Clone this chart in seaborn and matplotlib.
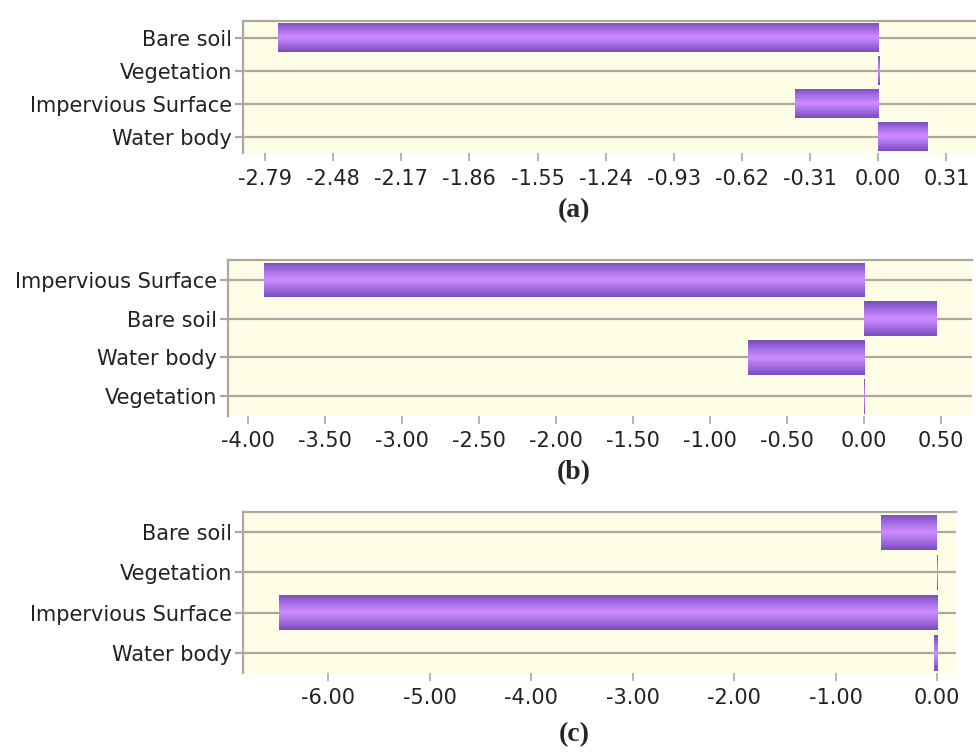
#!/usr/bin/env python3

import numpy as np
import pandas as pd
import matplotlib
matplotlib.use("Agg")
import matplotlib.pyplot as plt
from matplotlib.colors import LinearSegmentedColormap
import seaborn as sns

# panel (a)
cats_a = ["Bare soil", "Vegetation", "Impervious Surface", "Water body"]
vals_a = [-2.73, 0.005, -0.38, 0.225]
ticks_a = [-2.79, -2.48, -2.17, -1.86, -1.55, -1.24, -0.93, -0.62, -0.31, 0.00, 0.31]

# panel (b)
cats_b = ["Impervious Surface", "Bare soil", "Water body", "Vegetation"]
vals_b = [-3.90, 0.47, -0.755, 0.005]
ticks_b = [-4.00, -3.50, -3.00, -2.50, -2.00, -1.50, -1.00, -0.50, 0.00, 0.50]

# panel (c)
cats_c = ["Bare soil", "Vegetation", "Impervious Surface", "Water body"]
vals_c = [-0.55, -0.006, -6.49, -0.03]
ticks_c = [-6.00, -5.00, -4.00, -3.00, -2.00, -1.00, 0.00]

captions = ["(a)", "(b)", "(c)"]

sns.set_theme(style="white")
plt.rcParams['font.family'] = ['DejaVu Sans']

bg = "#fefee6"
grid_col = "#a9a9a2"
bar_cmap = LinearSegmentedColormap.from_list("bar", ["#cf8cff", "#a46ee6", "#7a4cbc"])

fig = plt.figure(figsize=(9.76, 7.52), dpi=100)

panels = [
    (cats_a, vals_a, ticks_a, (-2.89, 0.445), [0.249, 0.796, 0.751, 0.176]),
    (cats_b, vals_b, ticks_b, (-4.13, 0.70), [0.234, 0.447, 0.762, 0.207]),
    (cats_c, vals_c, ticks_c, (-6.84, 0.19), [0.249, 0.105, 0.731, 0.214]),
]
cap_y = [1 - 211 / 752, 1 - 473 / 752, 1 - 735 / 752]

for (cats, vals, ticks, xlim, rect), cap, cy in zip(panels, captions, cap_y):
    ax = fig.add_axes(rect)
    df = pd.DataFrame({"cat": cats, "val": vals})
    sns.barplot(data=df, x="val", y="cat", orient="h", ax=ax,
                color="#a46ee6", width=0.88, linewidth=0, zorder=3)
    ax.set_xlim(*xlim)
    ax.set_ylim(len(cats) - 0.5, -0.5)

    # vertical shading on each bar
    g = np.abs(np.linspace(-1, 1, 64))[:, None]
    for p in ax.patches:
        x0, y0 = p.get_x(), p.get_y()
        w, h = p.get_width(), p.get_height()
        im = ax.imshow(g, cmap=bar_cmap, vmin=0, vmax=1, aspect="auto",
                       extent=[x0, x0 + w, y0 + h, y0], zorder=3.5,
                       interpolation="bilinear")
        im.set_clip_path(p)
    ax.set_xlim(*xlim)
    ax.set_ylim(len(cats) - 0.5, -0.5)

    ax.set_facecolor(bg)
    ax.yaxis.grid(True, color=grid_col, lw=1.6)
    ax.set_axisbelow(True)
    for s in ["bottom", "right"]:
        ax.spines[s].set_visible(False)
    for s in ["left", "top"]:
        ax.spines[s].set_color(grid_col)
        ax.spines[s].set_linewidth(1.6)

    ax.set_xticks(ticks)
    ax.set_xticklabels(["%.2f" % t for t in ticks])
    ax.tick_params(axis="x", bottom=True, direction="out", length=6, width=1.2,
                   color=grid_col, labelsize=15, pad=5, labelcolor="#222222")
    ax.tick_params(axis="y", left=True, direction="out", length=6, width=1.6,
                   color=grid_col, labelsize=15, pad=2, labelcolor="#222222")
    ax.set_xlabel("")
    ax.set_ylabel("")

    fig.text(574 / 976, cy, cap, ha="center", va="center", fontsize=20,
             fontweight="bold", family=["Liberation Serif", "DejaVu Serif"])

fig.savefig("out.png", dpi=100)
